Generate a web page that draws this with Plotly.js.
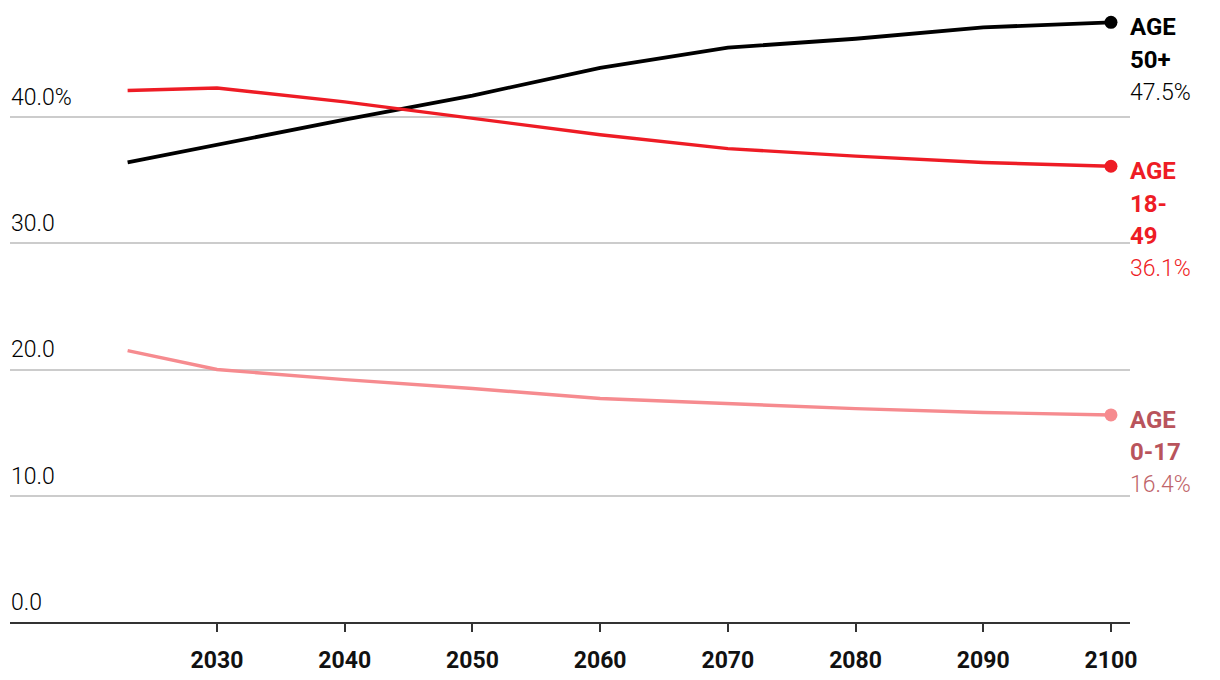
<!DOCTYPE html>
<html>
<head>
<meta charset="utf-8">
<script src="https://cdn.plot.ly/plotly-3.0.1.min.js"></script>
<style>
  html, body { margin: 0; padding: 0; background: #fff; }
  #chart { width: 1220px; height: 680px; }
</style>
</head>
<body>
<div id="chart"></div>
<script>
const years = [2023, 2030, 2040, 2050, 2060, 2070, 2080, 2090, 2100];
const age50plus = [36.4, 37.8, 39.8, 41.7, 43.9, 45.5, 46.2, 47.1, 47.5];
const age18to49 = [42.1, 42.3, 41.2, 39.9, 38.6, 37.5, 36.9, 36.4, 36.1];
const age0to17 = [21.5, 20.0, 19.2, 18.5, 17.7, 17.3, 16.9, 16.6, 16.4];

const seriesNameLines = [['AGE', '50+'], ['AGE', '18-', '49'], ['AGE', '0-17']];
const endLabels = ['47.5%', '36.1%', '16.4%'];

const yTickVals = [0, 10, 20, 30, 40];
const yTickText = ['0.0', '10.0', '20.0', '30.0', '40.0%'];
const xTickVals = [2030, 2040, 2050, 2060, 2070, 2080, 2090, 2100];

const lineColors = ['#000000', '#ee1c25', '#f68b8f'];
const nameColors = ['#000000', '#ee1c25', '#b9545c'];
const pctColors = ['#000000', '#ee1c25', '#c0646a'];
const lineWidths = [3.8, 3.4, 3.4];
const seriesData = [age50plus, age18to49, age0to17];

const traces = [];
seriesData.forEach((vals, i) => {
  traces.push({
    x: years, y: vals, type: 'scatter', mode: 'lines',
    line: { color: lineColors[i], width: lineWidths[i] },
    hoverinfo: 'skip', showlegend: false
  });
});
seriesData.forEach((vals, i) => {
  traces.push({
    x: [years[years.length - 1]], y: [vals[vals.length - 1]],
    type: 'scatter', mode: 'markers',
    marker: { size: 13, color: lineColors[i], opacity: 1, line: { width: 0 } },
    hoverinfo: 'skip', showlegend: false
  });
});

const annotations = [];
seriesData.forEach((vals, i) => {
  const lines = seriesNameLines[i].map(t => ({ text: '<b>' + t + '</b>', color: nameColors[i], size: 24, weight: 700 }));
  lines.push({ text: endLabels[i], color: pctColors[i], size: 23, weight: 300 });
  lines.forEach((ln, k) => {
    annotations.push({
      x: years[years.length - 1],
      y: vals[vals.length - 1],
      xref: 'x', yref: 'y',
      xanchor: 'left', yanchor: 'middle',
      xshift: 18, yshift: -(5 + 32.4 * k),
      align: 'left', showarrow: false, borderpad: 0,
      text: ln.text,
      font: { family: 'Roboto, sans-serif', size: ln.size, color: ln.color, weight: ln.weight }
    });
  });
});

const layout = {
  width: 1220,
  height: 680,
  margin: { l: 10, r: 90, t: 0, b: 58 },
  paper_bgcolor: '#ffffff',
  plot_bgcolor: '#ffffff',
  font: { family: 'Roboto, sans-serif' },
  xaxis: {
    range: [2013.79, 2101.49],
    tickvals: xTickVals,
    ticktext: xTickVals.map(String),
    showgrid: false,
    zeroline: false,
    showline: true,
    linecolor: '#333333',
    linewidth: 2,
    ticks: 'outside',
    ticklen: 8,
    tickwidth: 2,
    tickcolor: '#333333',
    ticklabelstandoff: 8,
    tickfont: { family: 'Roboto, sans-serif', size: 23, color: '#111111', weight: 700 }
  },
  yaxis: {
    range: [0, 49.27],
    tickvals: yTickVals,
    ticktext: yTickText,
    showgrid: true,
    gridcolor: '#cccccc',
    gridwidth: 2,
    zeroline: false,
    showline: false,
    ticks: '',
    ticklabelposition: 'inside top',
    ticklabelshift: -4,
    ticklabelstandoff: -2,
    tickfont: { family: 'Roboto, sans-serif', size: 23, color: '#000000', weight: 300 }
  },
  annotations: annotations
};

Plotly.newPlot('chart', traces, layout, { displayModeBar: false, staticPlot: true });
</script>
</body>
</html>
